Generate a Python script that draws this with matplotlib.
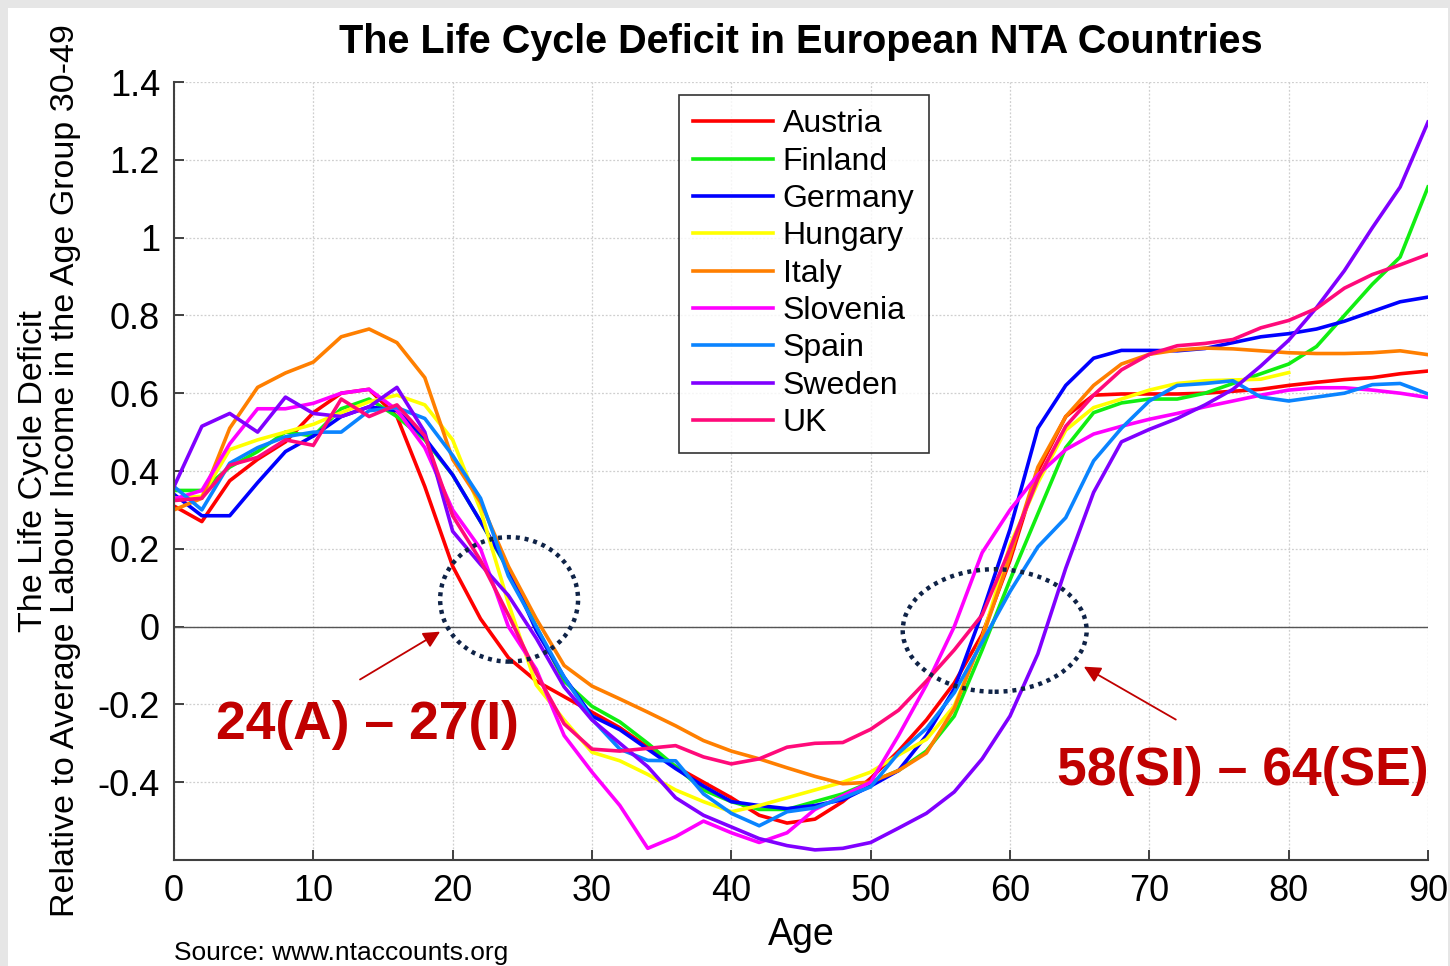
import matplotlib
matplotlib.use("Agg")
import matplotlib.pyplot as plt
from matplotlib.patches import Ellipse, Rectangle

# ages sampled every 2 years
ages = list(range(0, 91, 2))

austria = [0.31, 0.27, 0.375, 0.43, 0.475, 0.55, 0.60, 0.61, 0.54, 0.36,
           0.155, 0.02, -0.08, -0.14, -0.18, -0.22, -0.26, -0.31, -0.36, -0.40,
           -0.44, -0.485, -0.505, -0.495, -0.45, -0.39, -0.32, -0.24, -0.145, -0.02,
           0.17, 0.40, 0.54, 0.595, 0.598, 0.598, 0.598, 0.60, 0.605, 0.61,
           0.62, 0.628, 0.635, 0.64, 0.65, 0.657]
finland = [0.35, 0.35, 0.41, 0.45, 0.50, 0.49, 0.56, 0.585, 0.54, 0.48,
           0.39, 0.27, 0.145, 0.0, -0.14, -0.205, -0.245, -0.30, -0.36, -0.42,
           -0.45, -0.47, -0.47, -0.45, -0.43, -0.40, -0.37, -0.32, -0.23, -0.06,
           0.12, 0.29, 0.46, 0.55, 0.575, 0.585, 0.585, 0.60, 0.625, 0.65,
           0.675, 0.72, 0.80, 0.88, 0.95, 1.13]
germany = [0.34, 0.285, 0.285, 0.37, 0.45, 0.49, 0.54, 0.565, 0.555, 0.485,
           0.39, 0.27, 0.15, -0.01, -0.13, -0.23, -0.265, -0.315, -0.365, -0.41,
           -0.45, -0.46, -0.468, -0.46, -0.445, -0.41, -0.37, -0.28, -0.16, 0.035,
           0.25, 0.51, 0.62, 0.69, 0.71, 0.71, 0.709, 0.715, 0.73, 0.745,
           0.753, 0.765, 0.785, 0.81, 0.835, 0.847]
hungary = [0.33, 0.335, 0.455, 0.48, 0.50, 0.52, 0.55, 0.578, 0.595, 0.57,
           0.48, 0.30, 0.06, -0.15, -0.24, -0.323, -0.345, -0.38, -0.42, -0.45,
           -0.476, -0.46, -0.44, -0.42, -0.40, -0.374, -0.33, -0.29, -0.204, -0.03,
           0.21, 0.37, 0.505, 0.563, 0.585, 0.608, 0.625, 0.632, 0.634, 0.636,
           0.653]
italy = [0.30, 0.33, 0.51, 0.615, 0.652, 0.68, 0.745, 0.765, 0.73, 0.64,
         0.43, 0.32, 0.155, 0.02, -0.10, -0.153, -0.186, -0.22, -0.255, -0.293,
         -0.32, -0.34, -0.363, -0.385, -0.404, -0.40, -0.37, -0.325, -0.21, -0.03,
         0.18, 0.41, 0.54, 0.62, 0.675, 0.70, 0.711, 0.716, 0.714, 0.709,
         0.704, 0.702, 0.702, 0.704, 0.709, 0.699]
slovenia = [0.328, 0.35, 0.47, 0.56, 0.56, 0.574, 0.60, 0.61, 0.557, 0.46,
            0.30, 0.20, 0.0, -0.11, -0.28, -0.374, -0.46, -0.57, -0.54, -0.50,
            -0.53, -0.555, -0.53, -0.47, -0.435, -0.40, -0.28, -0.15, 0.0, 0.19,
            0.30, 0.39, 0.455, 0.495, 0.515, 0.533, 0.548, 0.565, 0.58, 0.595,
            0.608, 0.614, 0.614, 0.608, 0.60, 0.589]
spain = [0.36, 0.30, 0.42, 0.46, 0.488, 0.50, 0.50, 0.555, 0.563, 0.535,
         0.44, 0.33, 0.13, 0.0, -0.13, -0.238, -0.315, -0.344, -0.345, -0.43,
         -0.48, -0.512, -0.476, -0.466, -0.44, -0.412, -0.325, -0.262, -0.17, -0.04,
         0.09, 0.205, 0.28, 0.426, 0.51, 0.58, 0.62, 0.625, 0.632, 0.59,
         0.58, 0.59, 0.60, 0.622, 0.625, 0.598]
sweden = [0.36, 0.515, 0.548, 0.50, 0.59, 0.548, 0.54, 0.565, 0.615, 0.50,
          0.245, 0.16, 0.08, -0.03, -0.155, -0.24, -0.30, -0.36, -0.44, -0.485,
          -0.515, -0.545, -0.563, -0.574, -0.57, -0.555, -0.518, -0.48, -0.425, -0.34,
          -0.23, -0.07, 0.15, 0.345, 0.475, 0.507, 0.535, 0.57, 0.61, 0.67,
          0.736, 0.82, 0.915, 1.025, 1.13, 1.297]
uk = [0.324, 0.33, 0.415, 0.435, 0.48, 0.466, 0.585, 0.54, 0.57, 0.49,
      0.285, 0.17, 0.03, -0.12, -0.25, -0.315, -0.32, -0.313, -0.306, -0.335,
      -0.353, -0.34, -0.31, -0.30, -0.298, -0.264, -0.215, -0.14, -0.06, 0.03,
      0.20, 0.38, 0.515, 0.595, 0.66, 0.70, 0.722, 0.728, 0.738, 0.768,
      0.787, 0.818, 0.87, 0.905, 0.93, 0.957]

countries = ["Austria", "Finland", "Germany", "Hungary", "Italy",
             "Slovenia", "Spain", "Sweden", "UK"]
series = [austria, finland, germany, hungary, italy, slovenia, spain, sweden, uk]
colors = ["#ff0000", "#11ee11", "#0000ff", "#ffff00", "#ff7f00",
          "#ff00ff", "#0a84ff", "#8000ff", "#ff0a7a"]

xticks = [0, 10, 20, 30, 40, 50, 60, 70, 80, 90]
yticks = [-0.4, -0.2, 0, 0.2, 0.4, 0.6, 0.8, 1, 1.2, 1.4]
ytick_labels = ["-0.4", "-0.2", "0", "0.2", "0.4", "0.6", "0.8", "1", "1.2", "1.4"]

plt.rcParams["font.family"] = ["Liberation Sans", "DejaVu Sans"]

fig = plt.figure(figsize=(14.5, 9.66), dpi=100)
fig.patch.set_facecolor("#e6e6e6")
fig.add_artist(Rectangle((8 / 1450, 0), 1440 / 1450, 1 - 8 / 966,
                         transform=fig.transFigure, facecolor="white",
                         edgecolor="none", zorder=-10))

ax = fig.add_axes([174 / 1450, 1 - 860 / 966, 1254 / 1450, 778 / 966])
ax.set_facecolor("white")

for name, vals, c in zip(countries, series, colors):
    ax.plot(ages[:len(vals)], vals, color=c, lw=2.6, label=name,
            solid_joinstyle="round")

ax.axhline(0, color="#555555", lw=1.0, zorder=1)

ax.set_xlim(0, 90)
ax.set_ylim(-0.6, 1.4)
ax.set_xticks(xticks)
ax.set_yticks(yticks)
ax.set_yticklabels(ytick_labels)
ax.grid(True, color="#cfcfcf", linestyle=(0, (1.5, 1.5)), lw=0.9)
ax.set_axisbelow(True)
ax.tick_params(direction="in", length=7, width=1.4, color="#404040",
               labelsize=26, pad=10)
for s in ["top", "right"]:
    ax.spines[s].set_visible(False)
for s in ["left", "bottom"]:
    ax.spines[s].set_color("#404040")
    ax.spines[s].set_linewidth(1.5)

ax.set_title("The Life Cycle Deficit in European NTA Countries",
             fontsize=28.5, fontweight="bold", pad=21)
ax.set_xlabel("Age", fontsize=27, labelpad=6)
ax.set_ylabel("The Life Cycle Deficit\n"
              "Relative to Average Labour Income in the Age Group 30-49",
              fontsize=24.5, linespacing=1.05, labelpad=12)

leg = ax.legend(loc="upper left", bbox_to_anchor=((679 - 174) / 1254, (860 - 95) / 778),
                borderaxespad=0, fontsize=23, frameon=True, fancybox=False,
                edgecolor="black", handlelength=2.5, handletextpad=0.3,
                labelspacing=0.23, borderpad=0.45)
leg.get_frame().set_linewidth(1.2)
for h in leg.get_lines():
    h.set_linewidth(2.6)

# dotted ellipses around the zero crossings
ell_color = "#0f2347"
ax.add_patch(Ellipse((24.05, 0.07), 9.9, 0.32, fill=False, edgecolor=ell_color,
                     lw=3.2, linestyle=(0, (0.9, 1.1)), zorder=5))
ax.add_patch(Ellipse((58.9, -0.01), 13.2, 0.315, fill=False, edgecolor=ell_color,
                     lw=3.2, linestyle=(0, (0.9, 1.1)), zorder=5))

red = "#c00000"
ax.annotate("", xy=(19.1, -0.013), xytext=(13.35, -0.136),
            arrowprops=dict(arrowstyle="-|>", color=red, lw=1.3,
                            mutation_scale=25, shrinkA=0, shrinkB=0))
ax.annotate("", xy=(65.3, -0.103), xytext=(71.9, -0.239),
            arrowprops=dict(arrowstyle="-|>", color=red, lw=1.3,
                            mutation_scale=25, shrinkA=0, shrinkB=0))
ax.text(13.85, -0.254, "24(A) \u2013 27(I)", color=red, fontsize=38.5,
        fontweight="bold", ha="center", va="center")
ax.text(76.7, -0.372, "58(SI) \u2013 64(SE)", color=red, fontsize=38.5,
        fontweight="bold", ha="center", va="center")

fig.text(174 / 1450, 1 - 953 / 966, "Source: www.ntaccounts.org",
         fontsize=19, ha="left", va="center")

fig.savefig("out.png", dpi=100, facecolor=fig.get_facecolor())
